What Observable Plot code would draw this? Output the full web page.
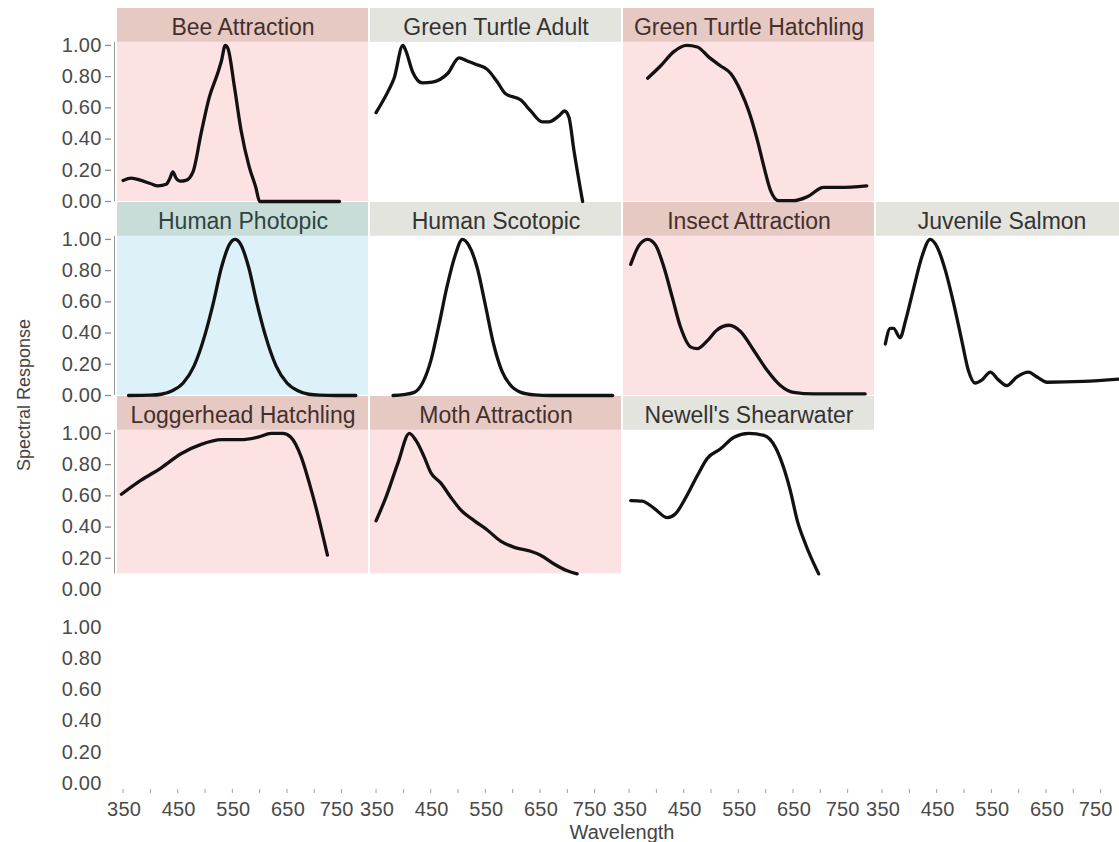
<!DOCTYPE html>
<html>
<head>
<meta charset="utf-8">
<script src="https://cdn.jsdelivr.net/npm/d3@7"></script>
<script src="https://cdn.jsdelivr.net/npm/@observablehq/plot@0.6"></script>
<style>
  html, body { margin: 0; padding: 0; background: #fff; overflow: hidden; }
  #chart svg { display: block; }
  #chart svg g[aria-label="y-axis tick label"] text,
  #chart svg g[aria-label="x-axis tick label"] text { letter-spacing: 0.2px; }
</style>
</head>
<body>
<div id="chart"></div>
<script>
// Normalised spectral response curves, [wavelength nm, response]
const beeAttraction = [[350,0.135],[365,0.15],[383,0.135],[400,0.115],[414,0.10],[429,0.11],[436,0.15],[441,0.19],[447,0.15],[455,0.13],[465,0.135],[478,0.19],[493,0.44],[508,0.67],[523,0.82],[530,0.9],[537,1.0],[542,0.98],[554,0.73],[566,0.455],[581,0.22],[593,0.09],[600,0.0],[746,0.0]];
const greenTurtleAdult = [[350,0.57],[374,0.72],[383,0.79],[399,1.0],[404,0.97],[417,0.83],[435,0.76],[453,0.765],[481,0.82],[502,0.92],[517,0.90],[532,0.88],[554,0.845],[572,0.765],[587,0.69],[615,0.65],[633,0.58],[654,0.51],[666,0.51],[685,0.55],[695,0.58],[703,0.54],[712,0.33],[728,0.0]];
const greenTurtleHatchling = [[384,0.79],[408,0.87],[432,0.96],[455,1.0],[475,0.99],[496,0.925],[517,0.87],[536,0.82],[554,0.71],[569,0.58],[585,0.39],[597,0.22],[609,0.07],[624,0.005],[651,0.005],[676,0.03],[706,0.09],[736,0.09],[785,0.10]];
const humanPhotopic = [[360,0.0],[400,0.002],[420,0.008],[440,0.03],[460,0.08],[480,0.19],[500,0.39],[515,0.59],[530,0.82],[545,0.97],[555,1.0],[565,0.97],[580,0.82],[595,0.59],[610,0.39],[630,0.19],[650,0.08],[670,0.03],[690,0.008],[710,0.002],[740,0.0],[776,0.0]];
const humanScotopic = [[381,0.0],[400,0.005],[420,0.02],[435,0.08],[450,0.22],[465,0.45],[480,0.7],[495,0.9],[508,1.0],[520,0.96],[535,0.82],[550,0.58],[565,0.33],[580,0.16],[595,0.07],[615,0.02],[640,0.004],[670,0.0],[783,0.0]];
const insectAttraction = [[353,0.84],[368,0.96],[384,1.0],[399,0.96],[414,0.82],[429,0.63],[444,0.44],[463,0.31],[475,0.30],[493,0.35],[511,0.42],[533,0.45],[554,0.41],[578,0.29],[603,0.16],[627,0.064],[651,0.02],[688,0.01],[782,0.01]];
const juvenileSalmon = [[356,0.33],[365,0.43],[371,0.43],[383,0.37],[393,0.48],[408,0.69],[423,0.89],[438,1.0],[451,0.95],[466,0.80],[481,0.59],[496,0.35],[508,0.16],[520,0.08],[533,0.10],[548,0.15],[563,0.10],[578,0.064],[597,0.12],[618,0.15],[633,0.12],[652,0.085],[718,0.09],[800,0.11]];
const loggerheadHatchling = [[347,0.61],[383,0.70],[420,0.78],[456,0.87],[493,0.93],[530,0.96],[566,0.96],[597,0.976],[621,1.0],[642,1.0],[657,0.976],[676,0.85],[691,0.68],[706,0.485],[724,0.22]];
const mothAttraction = [[350,0.44],[368,0.59],[390,0.81],[411,1.0],[423,0.955],[438,0.85],[450,0.75],[469,0.68],[487,0.59],[505,0.51],[530,0.44],[554,0.38],[578,0.31],[603,0.27],[633,0.245],[651,0.22],[675,0.165],[700,0.12],[718,0.10]];
const newellsShearwater = [[353,0.57],[374,0.566],[396,0.52],[420,0.46],[435,0.485],[454,0.59],[475,0.73],[493,0.84],[517,0.90],[542,0.976],[569,1.0],[597,0.987],[618,0.91],[633,0.78],[645,0.635],[658,0.44],[673,0.29],[697,0.10]];

const panelNames = ["Bee Attraction", "Green Turtle Adult", "Green Turtle Hatchling", "Human Photopic", "Human Scotopic", "Insect Attraction", "Juvenile Salmon", "Loggerhead Hatchling", "Moth Attraction", "Newell's Shearwater"];
const panelSeries = [beeAttraction, greenTurtleAdult, greenTurtleHatchling, humanPhotopic, humanScotopic, insectAttraction, juvenileSalmon, loggerheadHatchling, mothAttraction, newellsShearwater];
const panelKinds = ["attraction", "neutral", "attraction", "photopic", "neutral", "attraction", "neutral", "attraction", "attraction", "neutral"];

// Facet grid (rows top to bottom, columns left to right)
const layoutGrid = [
  ["Bee Attraction", "Green Turtle Adult", "Green Turtle Hatchling", null],
  ["Human Photopic", "Human Scotopic", "Insect Attraction", "Juvenile Salmon"],
  ["Loggerhead Hatchling", "Moth Attraction", "Newell's Shearwater", null],
  [null, null, null, null]
];
// The third row of panels is cut off just above zero
const rowFloor = {3: 0.1};

const yTicks = [0, 0.2, 0.4, 0.6, 0.8, 1.0];
const xMinorTicks = [350, 400, 450, 500, 550, 600, 650, 700, 750];
const xTickLabels = [350, 450, 550, 650, 750];

const waveDomain = [338, 801];
const yDomain = [0, 1.243];
const headerBase = 1.02;

const panelFill = {attraction: "#fde2e4", photopic: "#ddf1f9", neutral: "#ffffff"};
const headerFill = {attraction: "#e6c9c2", photopic: "#c9ddd8", neutral: "#e4e4de"};
const headerInk = {attraction: "#452f2d", photopic: "#2c4543", neutral: "#333333"};

// Build per-panel records and flattened curve points
const cellOf = new Map();
layoutGrid.forEach((r, i) => r.forEach((n, j) => { if (n) cellOf.set(n, {row: i + 1, col: j + 1}); }));
const panels = panelNames.map((name, i) => {
  const cell = cellOf.get(name);
  return {name, kind: panelKinds[i], col: cell.col, row: cell.row, floor: rowFloor[cell.row] ?? 0};
});
const points = panels.flatMap((p, i) => panelSeries[i].map(([w, r]) => ({name: p.name, col: p.col, row: p.row, w, r})));

const axisRows = [...new Set(panels.filter(p => p.col === 1).map(p => p.row))]
  .map(row => ({row, col: 1, floor: rowFloor[row] ?? 0}));
const tickRows = axisRows.flatMap(a => yTicks.filter(v => v >= a.floor).map(v => ({...a, v})));

// The last label in each column is nudged left so it clears the next column's first label
const lastLabel = xTickLabels[xTickLabels.length - 1];
const innerLabels = xTickLabels.filter(v => v !== lastLabel);

const W = 1129, H = 842, ML = 115, MR = 0, MT = 7, MB = 59;

const chart = Plot.plot({
  width: W, height: H,
  marginLeft: ML, marginRight: MR, marginTop: MT, marginBottom: MB,
  style: {fontFamily: "'Liberation Sans', Arial, Helvetica, sans-serif", fontSize: "20px", color: "#4a4a4a", background: "#fff", maxWidth: "none"},
  fx: {domain: [1, 2, 3, 4], padding: 0, axis: null},
  fy: {domain: [1, 2, 3, 4], padding: 0, axis: null},
  x: {domain: waveDomain},
  y: {domain: yDomain},
  marks: [
    // panel backgrounds and header strips
    Plot.rect(panels, {fx: "col", fy: "row", y1: "floor", y2: headerBase, fill: d => panelFill[d.kind], insetLeft: 1, insetRight: 1}),
    Plot.rect(panels, {fx: "col", fy: "row", y1: headerBase, y2: yDomain[1], fill: d => headerFill[d.kind], insetLeft: 1, insetRight: 1, insetTop: 1}),
    Plot.text(panels, {fx: "col", fy: "row", y: 1.112, text: "name", fill: d => headerInk[d.kind], fontSize: 23, style: "letter-spacing: 0.5px"}),
    // y axis line and ticks beside the first column
    Plot.ruleX(axisRows, {fx: "col", fy: "row", x: waveDomain[0], y1: "floor", y2: headerBase, dx: -2, stroke: "#999"}),
    Plot.ruleY(tickRows, {fx: "col", fy: "row", y: "v", x1: waveDomain[0], x2: waveDomain[0], insetLeft: -6, dx: -5, stroke: "#8c8c8c", strokeWidth: 1.3}),
    Plot.axisY({ticks: yTicks, tickFormat: d3.format(".2f"), tickSize: 0, tickPadding: 15, facetAnchor: "left", fill: "#4a4a4a", label: null}),
    // x axis: minor ticks every 50 nm, labels every 100 nm
    Plot.axisX({ticks: xMinorTicks, tickFormat: () => "", tickSize: 4, dy: 6, facetAnchor: "bottom", stroke: "#a0a0a0", label: null}),
    Plot.axisX({ticks: innerLabels, tickSize: 0, tickPadding: 18, dx: 1, facetAnchor: "bottom", fill: "#4a4a4a", label: null}),
    Plot.axisX({ticks: [lastLabel], tickSize: 0, tickPadding: 18, dx: -5, facetAnchor: "bottom", fill: "#4a4a4a", label: null}),
    // response curves
    Plot.line(points, {fx: "col", fy: "row", x: "w", y: "r", z: "name", curve: "monotone-x", stroke: "#121212", strokeWidth: 3.3, strokeLinejoin: "round", strokeLinecap: "round"})
  ]
});

chart.style.maxWidth = "none";
const svg = d3.select(chart);
svg.append("text")
  .attr("transform", `translate(24, ${MT + (H - MT - MB) / 2}) rotate(-90)`)
  .attr("text-anchor", "middle")
  .attr("dy", "0.35em")
  .attr("fill", "#444")
  .attr("font-size", 18)
  .text("Spectral Response");
svg.append("text")
  .attr("x", ML + (W - ML - MR) / 2)
  .attr("y", H - 3)
  .attr("text-anchor", "middle")
  .attr("fill", "#444")
  .attr("font-size", 20)
  .text("Wavelength");

document.getElementById("chart").appendChild(chart);
</script>
</body>
</html>
